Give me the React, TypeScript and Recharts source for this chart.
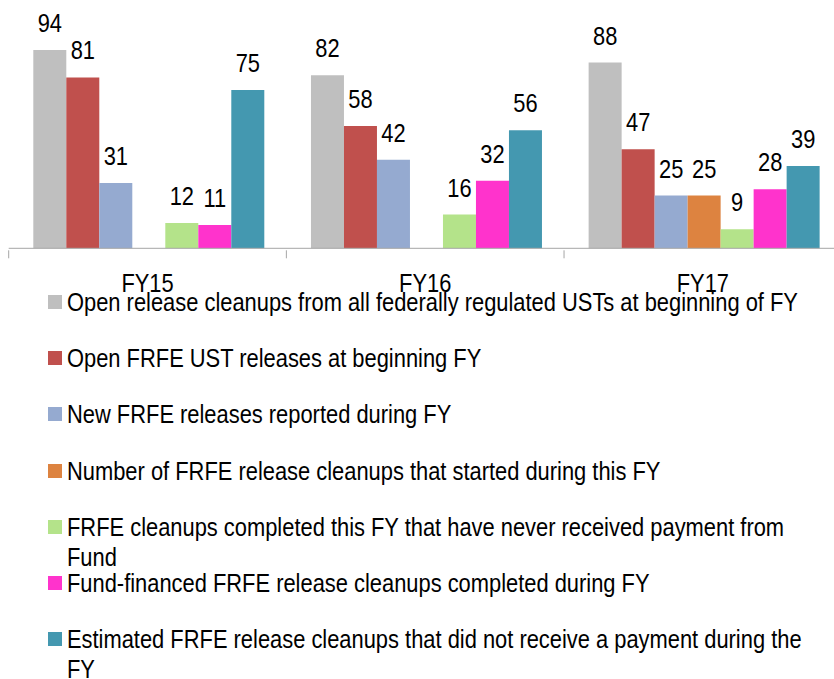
import { BarChart, Bar, XAxis, YAxis, LabelList } from "recharts";

const CATEGORIES = ["FY15", "FY16", "FY17"];

const SERIES_NAMES = [
  "Open release cleanups from all federally regulated USTs at beginning of FY",
  "Open FRFE UST releases at beginning FY",
  "New FRFE releases reported during FY",
  "Number of FRFE release cleanups that started during this FY",
  "FRFE cleanups completed this FY that have never received payment from Fund",
  "Fund-financed FRFE release cleanups completed during FY",
  "Estimated FRFE release cleanups that did not receive a payment during the FY",
];

const COLORS = ["#BFBFBF", "#C0504D", "#95AAD0", "#DD8340", "#B4E38A", "#FF33CC", "#4498B0"];

const OPEN_ALL = [94, 82, 88];
const OPEN_FRFE = [81, 58, 47];
const NEW_FRFE = [31, 42, 25];
const STARTED = [null, null, 25];
const COMPLETED_NO_PAY = [12, 16, 9];
const FUND_FINANCED = [11, 32, 28];
const NO_PAYMENT = [75, 56, 39];

const SERIES = [OPEN_ALL, OPEN_FRFE, NEW_FRFE, STARTED, COMPLETED_NO_PAY, FUND_FINANCED, NO_PAYMENT];

// no Arial Narrow here: squeeze Liberation Sans horizontally instead
const FONT = '"Liberation Sans", Arial, sans-serif';
const SQUEEZE = 0.858;
const FONT_SIZE = 25.5;

const data = CATEGORIES.map((cat, i) => {
  const row: Record<string, string | number | null> = { cat };
  SERIES.forEach((s, k) => {
    row[`s${k}`] = s[i];
  });
  return row;
});

const PLOT_LEFT = 8.7;
const PLOT_WIDTH = 833;
const BAND = PLOT_WIDTH / CATEGORIES.length;
const CHART_W = 860;
const CHART_H = 300;
const PLOT_TOP = 37.3;
const AXIS_Y = 248.3;

const NarrowText = ({ x, y, children }: { x: number; y: number; children: any }) => (
  <text
    transform={`translate(${x},${y}) scale(${SQUEEZE},1)`}
    textAnchor="middle"
    fontSize={FONT_SIZE}
    fontFamily={FONT}
    fill="#000"
  >
    {children}
  </text>
);

const CategoryTick = (props: any) => {
  const { x, y, payload, index } = props;
  const left = x - BAND / 2;
  return (
    <g>
      <line x1={left} y1={y} x2={left} y2={y + 8} stroke="#A6A6A6" strokeWidth={1} />
      {index === CATEGORIES.length - 1 && (
        <line x1={x + BAND / 2} y1={y} x2={x + BAND / 2} y2={y + 8} stroke="#A6A6A6" strokeWidth={1} />
      )}
      <NarrowText x={x} y={y + 41.5}>
        {payload.value}
      </NarrowText>
    </g>
  );
};

const ValueLabel = (props: any) => {
  const { x, y, width, value } = props;
  if (value == null) return null;
  return (
    <NarrowText x={x + width / 2} y={y - 18}>
      {value}
    </NarrowText>
  );
};

export default function App() {
  return (
    <div
      style={{
        position: "absolute",
        left: 0,
        top: 0,
        width: 834,
        height: 679,
        overflow: "hidden",
        background: "#fff",
        fontFamily: FONT,
      }}
    >
      <BarChart
        width={CHART_W}
        height={CHART_H}
        data={data}
        margin={{ top: PLOT_TOP, right: CHART_W - PLOT_LEFT - PLOT_WIDTH, bottom: 0, left: PLOT_LEFT }}
        barCategoryGap={24.6}
        barGap={0}
      >
        <XAxis
          dataKey="cat"
          height={CHART_H - AXIS_Y}
          axisLine={{ stroke: "#A6A6A6", strokeWidth: 1 }}
          tickLine={false}
          tickSize={0}
          tick={<CategoryTick />}
          interval={0}
        />
        <YAxis hide domain={[0, 100]} />
        {SERIES.map((_, k) => (
          <Bar key={k} dataKey={`s${k}`} fill={COLORS[k]} isAnimationActive={false}>
            <LabelList dataKey={`s${k}`} content={<ValueLabel />} />
          </Bar>
        ))}
      </BarChart>
      {SERIES_NAMES.map((name, k) => (
        <div
          key={k}
          style={{
            position: "absolute",
            left: 47.5,
            top: 302 + k * 56.2 - 15,
            display: "flex",
            alignItems: "flex-start",
          }}
        >
          <div style={{ width: 14, height: 14, background: COLORS[k], marginTop: 8, marginRight: 5.5, flexShrink: 0 }} />
          <div
            style={{
              width: 745 / SQUEEZE,
              fontSize: FONT_SIZE,
              lineHeight: "30px",
              color: "#000",
              transform: `scaleX(${SQUEEZE})`,
              transformOrigin: "left top",
            }}
          >
            {name}
          </div>
        </div>
      ))}
    </div>
  );
}
